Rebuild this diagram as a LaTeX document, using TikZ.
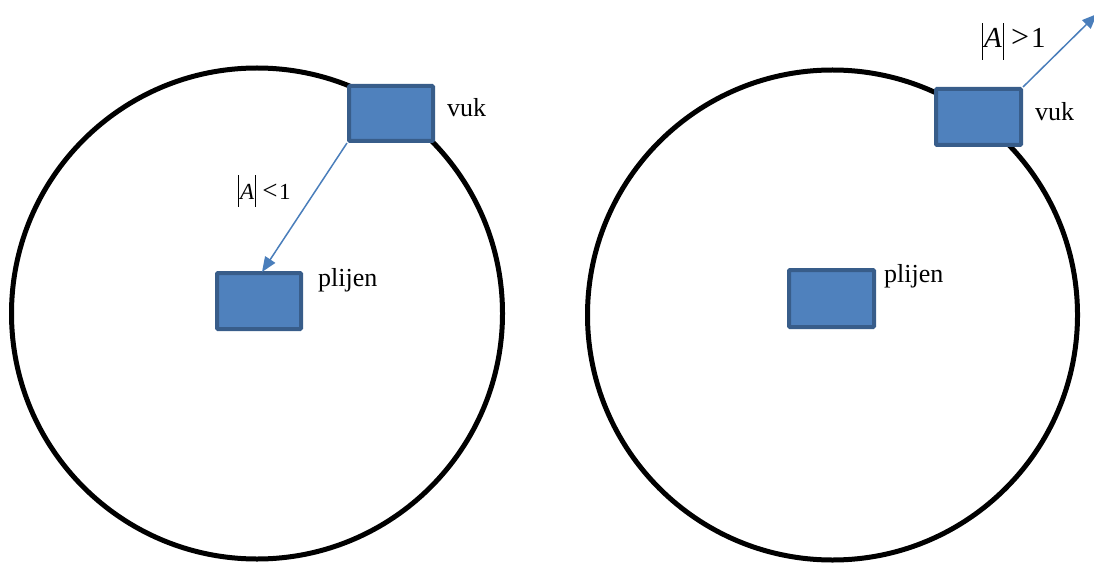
\documentclass[tikz,border=0pt]{standalone}
\usepackage{fontspec}
\setmainfont{Liberation Serif}
\usetikzlibrary{arrows.meta}
\definecolor{boxfill}{HTML}{4F81BD}
\definecolor{boxline}{HTML}{385D8A}
\definecolor{arrowblue}{HTML}{4A7EBB}
\newcommand{\myvbar}[2]{\rule[-#1pt]{1pt}{#2pt}}
\begin{document}
\begin{tikzpicture}[x=1pt,y=-1pt,
  ring/.style={draw=black,line width=5pt},
  agent/.style={draw=boxline,fill=boxfill,line width=4pt,rounded corners=1pt,minimum width=84pt,minimum height=55pt,inner sep=0pt},
  lbl/.style={anchor=base west,inner sep=0pt,font=\fontsize{26}{30}\selectfont},
  move/.style={draw=arrowblue,line width=1.5pt,-{Triangle[length=15pt,width=12pt]}}]
\useasboundingbox (0,0) rectangle (1094,564);
% circles
\node[ring,circle,minimum size=491pt,inner sep=0pt] (c1) at (257,313.5) {};
\node[ring,circle,minimum size=490pt,inner sep=0pt] (c2) at (832.5,315) {};
% boxes
\node[agent] (v1) at (391,113.5) {};
\node[agent,minimum height=56pt] (p1) at (259,301) {};
\node[agent,minimum width=85pt,minimum height=56pt] (v2) at (978.5,117) {};
\node[agent,minimum width=85pt,minimum height=57pt] (p2) at (831.5,298.5) {};
% labels
\node[lbl] (t1) at (447,117) {vuk};
\node[lbl] (t2) at (318,286.5) {plijen};
\node[lbl] (t3) at (1035,120.5) {vuk};
\node[lbl] (t4) at (884,282.5) {plijen};
\node[anchor=base west,inner sep=0pt,font=\fontsize{23}{26}\selectfont] (a1) at (237.5,200)
  {\myvbar{7}{32}\kern1.5pt\textit{A}\kern1pt\myvbar{7}{32}\kern6pt{\fontsize{27}{30}\selectfont<}\kern1.5pt1};
\node[anchor=base west,inner sep=0pt,font=\fontsize{29}{32}\selectfont] (a2) at (981.5,48)
  {\myvbar{12}{37}\kern1.5pt\textit{A}\kern1pt\myvbar{12}{37}\kern7pt{\fontsize{32}{34}\selectfont>}\kern2pt1};
% arrows
\coordinate (out) at (1097,14);
\draw[move] (v1.south west) -- ([xshift=3pt,yshift=-1pt]p1.north);
\draw[move] (v2.north east) -- (out);
\end{tikzpicture}
\end{document}
